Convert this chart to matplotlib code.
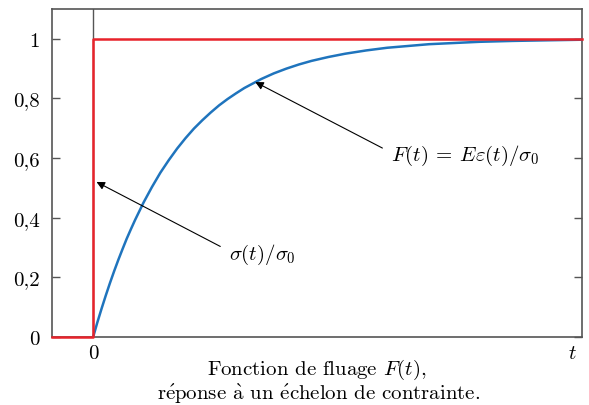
import matplotlib.pyplot as plt

plt.rcParams['font.family'] = ['cmr10', 'DejaVu Serif']
plt.rcParams['mathtext.fontset'] = 'cm'
plt.rcParams['axes.unicode_minus'] = False

# fluage curve (t in units of the time constant)
t_creep = [0, 0.05, 0.1, 0.15, 0.2, 0.25, 0.3, 0.35, 0.4, 0.45, 0.5, 0.6,
           0.7, 0.8, 0.9, 1.0, 1.1, 1.2, 1.3, 1.4, 1.5, 1.6, 1.7, 1.8, 1.9,
           2.0, 2.15, 2.3, 2.45, 2.6, 2.8, 3.0, 3.25, 3.5, 3.75, 4.0, 4.3,
           4.6, 5.0, 5.4, 5.82]
F_creep = [0, 0.049, 0.095, 0.139, 0.181, 0.221, 0.259, 0.295, 0.330, 0.362,
           0.393, 0.451, 0.503, 0.551, 0.593, 0.632, 0.667, 0.699, 0.727,
           0.753, 0.777, 0.798, 0.817, 0.835, 0.850, 0.865, 0.884, 0.900,
           0.914, 0.926, 0.939, 0.950, 0.961, 0.970, 0.976, 0.982, 0.986,
           0.990, 0.993, 0.995, 0.997]

# stress step
t_step = [-0.49, 0, 0, 5.82]
s_step = [0, 0, 1, 1]

yticks = [0, 0.2, 0.4, 0.6, 0.8, 1]
ylabels = ['0', '0,2', '0,4', '0,6', '0,8', '1']

fs = 15

fig = plt.figure(figsize=(5.89, 4.06), dpi=100)
ax = fig.add_axes([52/589, 1 - 338/406, 530/589, 328/406])

ax.axvline(0, color='#555555', lw=1.0, zorder=1)
ax.plot(t_creep, F_creep, color='#1f74bd', lw=1.8, zorder=3)
ax.plot(t_step, s_step, color='#e8232b', lw=1.8, zorder=4, clip_on=False)

ax.set_xlim(-0.49, 5.82)
ax.set_ylim(0, 1.1)

ax.set_yticks(yticks)
ax.set_yticklabels(ylabels, fontsize=fs)
ax.tick_params(axis='y', direction='in', length=6, width=1, color='#555555',
               right=True, pad=9)
ax.set_xticks([0, 5.7])
ax.set_xticklabels(['0', '$t$'], fontsize=fs)
ax.tick_params(axis='x', length=0, pad=5)

for sp in ax.spines.values():
    sp.set_color('#555555')
    sp.set_linewidth(1.2)

arrow = dict(arrowstyle='-|>', color='black', lw=0.8, mutation_scale=12,
             shrinkA=5, shrinkB=0, relpos=(0, 0.6))
ax.annotate(r'$F(t)\:=\:E\varepsilon(t)/\sigma_0$', xy=(1.93, 0.855),
            xytext=(3.55, 0.61), fontsize=fs, va='center', ha='left',
            arrowprops=arrow)
ax.annotate(r'$\sigma(t)/\sigma_0$', xy=(0.04, 0.52),
            xytext=(1.62, 0.28), fontsize=fs, va='center', ha='left',
            arrowprops=arrow)

fig.text(317/589, 1 - 370/406, 'Fonction de fluage $F(t)$,',
         ha='center', va='center', fontsize=fs)
fig.text(319/589, 1 - 394/406,
         r'r$\mathrm{\acute{e}}$ponse $\mathrm{\grave{a}}$ un '
         r'$\mathrm{\acute{e}}$chelon de contrainte.',
         ha='center', va='center', fontsize=fs)

fig.savefig('out.png', dpi=100)
